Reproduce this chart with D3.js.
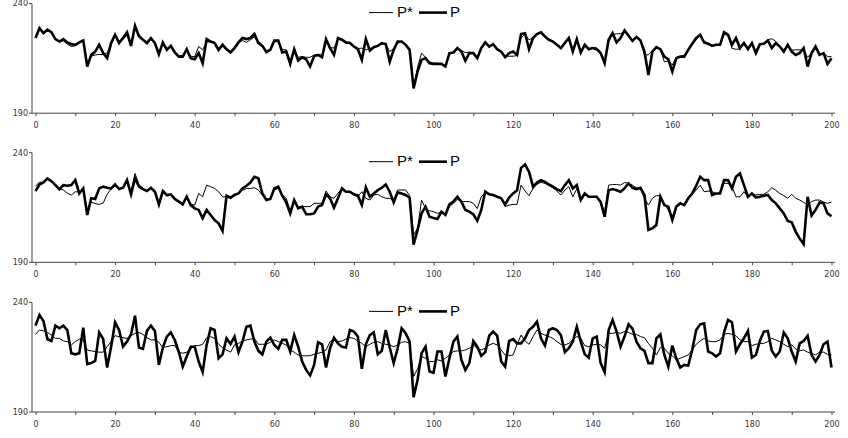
<!DOCTYPE html>
<html>
<head>
<meta charset="utf-8">
<script src="https://cdn.jsdelivr.net/npm/d3@7"></script>
<style>
  body { margin: 0; background: #fff; }
  .tick-label { font-family: "DejaVu Sans", sans-serif; font-size: 8px; fill: #333; }
  .legend-label { font-family: "Liberation Sans", Arial, sans-serif; font-size: 15px; fill: #000; }
</style>
</head>
<body>
<svg id="chart" width="848" height="438"></svg>
<script>
// x runs 0..200, one value per step
const xValues = d3.range(0, 201);
const xTicks = d3.range(0, 201, 10);
const yTicks = [190, 240];
const seriesNames = ["P*", "P"];

// panel 1
const pStar1 = [224.8,228.0,227.0,227.5,226.8,224.0,222.5,223.0,221.5,220.4,
220.8,222.0,223.0,212.5,216.0,216.6,216.8,216.8,217.5,221.5,
225.0,223.0,223.8,225.5,221.5,228.5,226.0,223.8,222.3,223.5,
221.8,217.5,221.5,219.5,220.3,218.0,216.2,216.2,218.5,216.0,
215.8,220.4,218.9,222.5,222.5,222.0,219.2,220.5,219.5,218.2,
219.5,222.0,223.2,222.3,223.5,224.8,222.8,221.0,218.5,219.0,
222.5,222.8,219.0,218.9,214.0,218.5,215.5,215.8,215.5,215.5,
216.5,216.8,216.5,222.5,220.0,219.7,223.8,223.3,222.0,221.8,
220.5,219.5,219.7,218.9,219.5,220.0,221.0,221.5,221.5,218.1,
219.5,222.0,222.5,221.5,219.5,202.0,211.0,217.4,215.5,213.5,
212.8,212.8,212.3,211.8,217.0,217.5,219.2,218.5,217.7,217.8,
217.4,215.8,219.5,221.8,220.8,221.2,219.5,218.3,216.0,216.0,
216.0,216.3,224.3,226.0,223.5,224.5,225.8,226.5,225.0,223.8,
222.8,221.5,220.2,221.8,223.8,219.0,222.8,218.5,220.8,219.5,
219.8,219.8,218.0,214.0,222.5,226.0,226.2,226.3,227.2,225.5,
223.2,224.5,223.0,216.6,216.6,218.5,219.8,219.0,213.5,213.8,
212.0,215.5,216.0,216.2,218.5,221.2,223.5,225.5,222.8,221.8,
221.0,221.5,221.2,226.0,225.5,219.5,219.2,219.2,221.5,219.8,
221.5,218.5,221.2,221.8,223.5,224.0,222.8,220.4,219.0,220.5,
218.8,218.9,218.9,218.9,215.5,217.5,219.8,217.0,217.5,215.8,
215.8];
const p1 = [224.3,228.8,226.5,228.1,227.0,223.8,222.7,223.8,222.3,221.5,
221.2,222.3,223.2,211.3,216.6,218.1,221.2,217.4,215.1,222.0,
225.8,222.0,224.3,226.9,220.7,229.9,225.0,223.5,222.0,224.3,
222.0,216.9,222.3,218.9,220.7,217.7,215.8,215.8,219.2,215.1,
214.6,217.4,212.8,223.8,222.7,222.0,218.9,221.2,219.2,217.7,
219.7,222.3,224.3,223.8,224.3,226.1,222.0,220.7,217.8,218.9,
223.2,223.2,217.7,218.1,212.5,219.2,214.0,215.5,214.6,211.3,
216.1,216.6,215.5,223.8,219.7,216.6,224.3,223.5,222.3,222.0,
220.4,219.2,214.3,223.8,218.6,220.1,220.7,222.0,221.5,213.5,
218.9,222.7,222.7,221.2,218.9,201.3,209.0,214.3,215.1,212.8,
212.5,212.5,212.5,211.3,217.4,217.7,219.7,218.1,213.9,217.4,
217.4,215.1,219.7,222.3,220.4,221.5,219.2,218.1,215.5,217.4,
218.1,216.6,226.1,226.5,219.2,224.3,226.1,226.9,225.0,223.5,
222.7,221.2,219.7,222.0,224.3,218.1,223.8,217.7,221.2,219.2,
219.7,219.2,217.4,212.8,223.5,226.5,222.3,224.3,227.8,225.3,
223.0,224.8,223.2,218.1,207.4,218.1,220.1,219.2,215.8,214.6,
209.0,215.1,215.8,215.8,218.9,221.7,224.3,225.8,222.3,221.7,
220.7,221.2,221.2,226.9,225.8,221.2,224.3,219.7,222.0,219.2,
222.0,217.4,221.5,221.7,223.2,219.7,222.0,220.4,218.1,221.2,
218.1,216.6,217.4,219.7,211.3,217.4,220.4,216.6,217.4,212.5,
215.1];

// panel 2
const pStar2 = [224.8,226.5,226.5,227.8,226.8,225.0,223.5,223.0,221.5,220.7,
222.2,222.0,223.0,213.1,217.5,216.8,216.4,217.0,221.0,223.4,
225.0,223.4,224.0,226.5,222.0,230.5,225.5,223.8,222.5,223.5,
222.0,217.5,222.0,220.3,220.8,219.0,218.0,216.8,219.5,216.5,
216.1,221.4,219.9,225.2,224.5,223.7,222.2,219.9,219.9,219.0,
220.5,221.5,222.8,223.7,223.7,224.0,223.0,220.5,219.0,218.9,
223.0,223.7,220.7,219.2,213.5,218.5,215.4,215.4,215.4,215.4,
216.9,216.9,216.9,222.5,219.9,219.2,221.5,223.5,222.2,222.2,
221.0,220.0,222.2,219.2,218.4,220.7,221.0,219.9,219.2,219.2,
218.4,223.0,223.0,223.0,220.5,202.5,205.5,218.4,214.5,213.5,
213.1,212.3,213.1,211.6,215.4,216.9,218.7,217.7,217.7,217.7,
216.9,214.5,219.9,221.7,221.0,220.5,219.9,219.0,215.4,216.1,
216.4,216.4,225.2,222.5,220.4,223.7,225.5,226.5,226.0,225.0,
224.0,222.5,220.7,222.9,224.5,219.9,223.5,218.9,221.0,219.5,
219.9,219.9,218.0,212.5,225.2,225.5,225.5,225.2,226.4,226.0,
225.2,224.0,223.5,219.2,216.1,219.2,220.4,220.4,216.5,213.9,
210.0,215.0,216.5,216.5,218.9,221.0,223.0,225.2,222.2,222.5,
222.2,221.4,221.4,226.0,226.0,224.5,219.9,219.9,222.2,220.0,
221.0,220.7,221.0,221.0,222.2,224.0,222.9,221.4,220.4,219.2,
221.0,219.2,218.4,217.3,216.4,217.7,218.4,218.4,217.5,216.9,
217.5];
const p2 = [222.5,225.5,226.4,228.3,227.0,225.2,223.3,225.2,224.9,225.2,
227.5,221.4,223.7,211.6,219.2,218.9,223.7,224.5,224.0,223.7,
225.5,223.4,224.0,227.5,221.0,228.3,224.5,223.4,222.5,224.0,
222.2,216.4,222.5,220.7,221.0,218.9,217.7,216.4,219.9,216.1,
214.6,213.9,210.1,213.9,211.6,209.3,207.8,204.3,220.4,219.5,
220.7,221.4,223.7,224.9,226.4,229.0,228.3,221.4,218.4,218.9,
223.7,224.5,220.4,217.3,212.3,218.4,214.6,215.4,211.9,211.9,
212.3,215.4,216.1,221.0,219.2,214.9,219.2,223.7,222.2,222.2,
221.0,220.4,216.1,224.2,219.9,221.4,222.9,224.0,225.5,222.2,
217.3,221.9,221.4,220.7,219.5,198.0,204.8,212.3,215.4,210.8,
210.2,209.8,213.1,211.6,216.4,217.7,219.9,217.7,213.9,213.1,
211.9,208.9,213.9,222.2,221.0,220.7,219.9,219.2,216.4,219.5,
221.4,222.9,233.1,234.6,231.3,224.5,226.4,227.5,226.7,225.5,
224.5,223.4,222.5,225.2,227.5,223.7,225.2,218.4,221.4,219.9,
219.9,219.9,217.5,210.8,222.9,223.4,222.9,222.2,223.7,226.0,
224.0,223.4,224.0,220.7,204.8,205.5,207.0,219.9,216.1,215.4,
209.3,215.4,216.9,216.1,219.2,221.4,224.9,229.0,227.5,227.5,
220.7,221.4,221.4,227.5,227.5,223.7,229.0,230.5,225.2,219.9,
221.4,219.5,219.9,220.4,220.7,218.4,216.9,214.6,212.3,208.9,
208.3,204.0,200.8,198.3,219.9,211.3,213.9,217.3,216.9,212.3,
211.0];

// panel 3
const pStar3 = [225.4,227.4,227.0,226.3,225.1,223.6,223.6,222.4,222.1,220.6,
222.1,223.2,222.9,218.3,217.9,217.6,217.3,217.3,219.8,222.1,
224.8,224.4,223.9,223.6,224.8,225.9,226.3,225.4,223.9,222.9,
222.9,221.8,219.4,219.8,220.3,220.3,217.3,216.8,217.3,218.8,
220.3,220.3,220.9,223.9,224.4,223.6,220.9,219.4,218.3,217.3,
220.6,221.3,222.4,222.9,223.3,223.6,220.9,220.9,220.9,221.8,
222.9,222.1,221.3,220.6,218.3,217.3,216.0,215.7,215.6,215.7,
216.3,216.8,217.3,218.3,222.1,222.9,222.1,222.4,223.3,223.9,
223.6,222.4,221.3,219.8,220.9,221.8,222.1,221.3,220.9,220.6,
219.8,220.6,221.8,222.1,221.3,206.2,209.7,215.3,214.5,213.0,
213.0,213.8,213.3,214.5,216.0,217.6,217.9,217.9,218.3,219.1,
220.6,219.1,218.3,219.1,220.6,221.3,220.6,218.3,216.0,215.7,
216.0,220.9,225.1,222.4,220.9,224.4,227.4,225.9,225.1,224.4,
223.6,222.1,220.9,220.6,221.3,222.9,224.4,223.6,220.3,219.8,
220.6,220.9,220.6,219.1,225.9,225.9,226.3,225.9,226.7,226.3,
225.4,225.4,224.4,223.9,221.3,219.1,216.0,219.4,219.1,216.8,
215.7,213.8,214.5,215.3,216.0,218.3,220.9,222.4,223.6,222.4,
222.1,222.1,222.9,225.4,225.9,225.4,224.8,222.9,222.1,222.1,
220.3,220.9,221.3,221.3,222.1,223.6,222.9,222.1,220.9,219.8,
220.6,218.8,217.9,218.3,217.3,216.8,216.0,217.3,217.3,216.3,
216.0];
const p3 = [229.4,234.2,231.5,223.2,222.4,229.4,228.2,229.4,227.4,216.8,
216.3,216.8,228.5,211.8,212.3,213.3,226.3,223.3,210.3,219.8,
230.9,227.4,219.8,222.1,225.4,233.9,219.4,218.8,227.0,229.4,
227.0,211.5,219.4,224.4,226.3,222.8,217.4,210.7,215.3,219.8,
219.8,213.0,208.2,220.6,228.2,227.4,214.5,216.3,223.6,221.0,
224.4,217.3,222.1,228.9,229.4,222.1,217.9,216.3,222.1,223.9,
220.6,218.8,222.9,222.9,217.6,225.1,219.8,213.0,209.2,206.7,
211.5,221.8,220.9,210.3,219.1,223.9,221.3,219.8,219.4,227.4,
226.7,224.4,209.7,220.9,225.1,226.3,216.3,217.9,227.4,219.4,
212.3,219.1,228.2,225.9,222.1,196.7,204.7,216.8,219.8,208.5,
207.9,217.6,217.6,206.2,214.5,222.1,224.4,213.8,209.2,212.3,
222.4,219.8,215.6,217.3,224.8,226.7,224.8,213.0,210.7,222.4,
223.3,221.3,221.3,223.6,227.4,228.9,231.2,223.6,220.3,227.4,
228.2,227.4,225.1,217.3,219.1,222.1,228.9,222.1,216.3,214.8,
223.6,224.4,212.3,208.2,227.4,232.0,226.7,219.8,224.4,230.0,
228.0,222.1,219.1,217.9,212.3,212.3,223.6,225.4,216.0,210.7,
220.3,214.5,210.3,211.5,211.2,218.3,227.4,230.0,230.4,217.6,
216.8,215.3,216.8,226.3,232.0,230.9,217.6,220.9,223.6,227.0,
214.8,216.0,222.4,226.7,227.0,217.9,215.3,217.6,226.3,223.6,
217.6,213.0,221.3,222.4,224.8,216.0,213.0,216.0,220.9,222.1,
210.3];

const panels = [
    {star: pStar1, p: p1},
    {star: pStar2, p: p2},
    {star: pStar3, p: p3}
];

const svg = d3.select("#chart");
const panelTops = [3.6, 152.7, 302.4];
const panelHeight = 109.6;
const axisLeft = 32, axisRight = 835;

const x = d3.scaleLinear().domain([0, 200]).range([35.5, 831.5]);

panels.forEach(function(panel, i) {
    const top = panelTops[i];
    const y = d3.scaleLinear().domain([190, 240]).range([top + panelHeight, top]);
    const g = svg.append("g");

    //x axis: ticks every 10, labels every 20
    const xAxis = d3.axisBottom(x)
        .tickValues(xTicks)
        .tickSize(3)
        .tickSizeOuter(0)
        .tickPadding(6.5)
        .tickFormat(function(v) { return v % 20 === 0 ? v : ""; });
    const gx = g.append("g")
        .attr("transform", "translate(0," + y(190) + ")")
        .call(xAxis);
    gx.select(".domain").remove();
    gx.selectAll(".tick line").attr("stroke", "#444");
    gx.selectAll(".tick text").attr("class", "tick-label").attr("fill", null);

    g.append("line")
        .attr("x1", axisLeft).attr("x2", axisRight)
        .attr("y1", y(190)).attr("y2", y(190))
        .attr("stroke", "#444").attr("stroke-width", 1);

    //y axis: only the two end ticks
    g.append("line")
        .attr("x1", axisLeft).attr("x2", axisLeft)
        .attr("y1", y(240)).attr("y2", y(190))
        .attr("stroke", "#444").attr("stroke-width", 1);
    g.selectAll(".ytick")
        .data(yTicks)
        .enter()
        .append("line")
        .attr("x1", axisLeft - 3).attr("x2", axisLeft)
        .attr("y1", function(d) { return y(d); })
        .attr("y2", function(d) { return y(d); })
        .attr("stroke", "#444");
    g.selectAll(".ylabel")
        .data(yTicks)
        .enter()
        .append("text")
        .attr("class", "tick-label")
        .attr("x", 28)
        .attr("y", function(d) { return y(d); })
        .attr("dy", "0.35em")
        .attr("text-anchor", "end")
        .text(function(d) { return d; });

    const line = d3.line()
        .x(function(d, k) { return x(xValues[k]); })
        .y(function(d) { return y(d); });

    g.append("path")
        .datum(panel.p)
        .attr("fill", "none")
        .attr("stroke", "#000")
        .attr("stroke-width", 2.6)
        .attr("d", line);

    g.append("path")
        .datum(panel.star)
        .attr("fill", "none")
        .attr("stroke", "#000")
        .attr("stroke-width", 1)
        .attr("d", line);

    //legend
    const ly = top + 9;
    g.append("line")
        .attr("x1", 369).attr("x2", 393)
        .attr("y1", ly).attr("y2", ly)
        .attr("stroke", "#000").attr("stroke-width", 1);
    g.append("text")
        .attr("class", "legend-label")
        .attr("x", 397).attr("y", ly + 4.5)
        .text(seriesNames[0]);
    g.append("line")
        .attr("x1", 419).attr("x2", 447)
        .attr("y1", ly).attr("y2", ly)
        .attr("stroke", "#000").attr("stroke-width", 2.6);
    g.append("text")
        .attr("class", "legend-label")
        .attr("x", 450).attr("y", ly + 4.5)
        .text(seriesNames[1]);
});
</script>
</body>
</html>
